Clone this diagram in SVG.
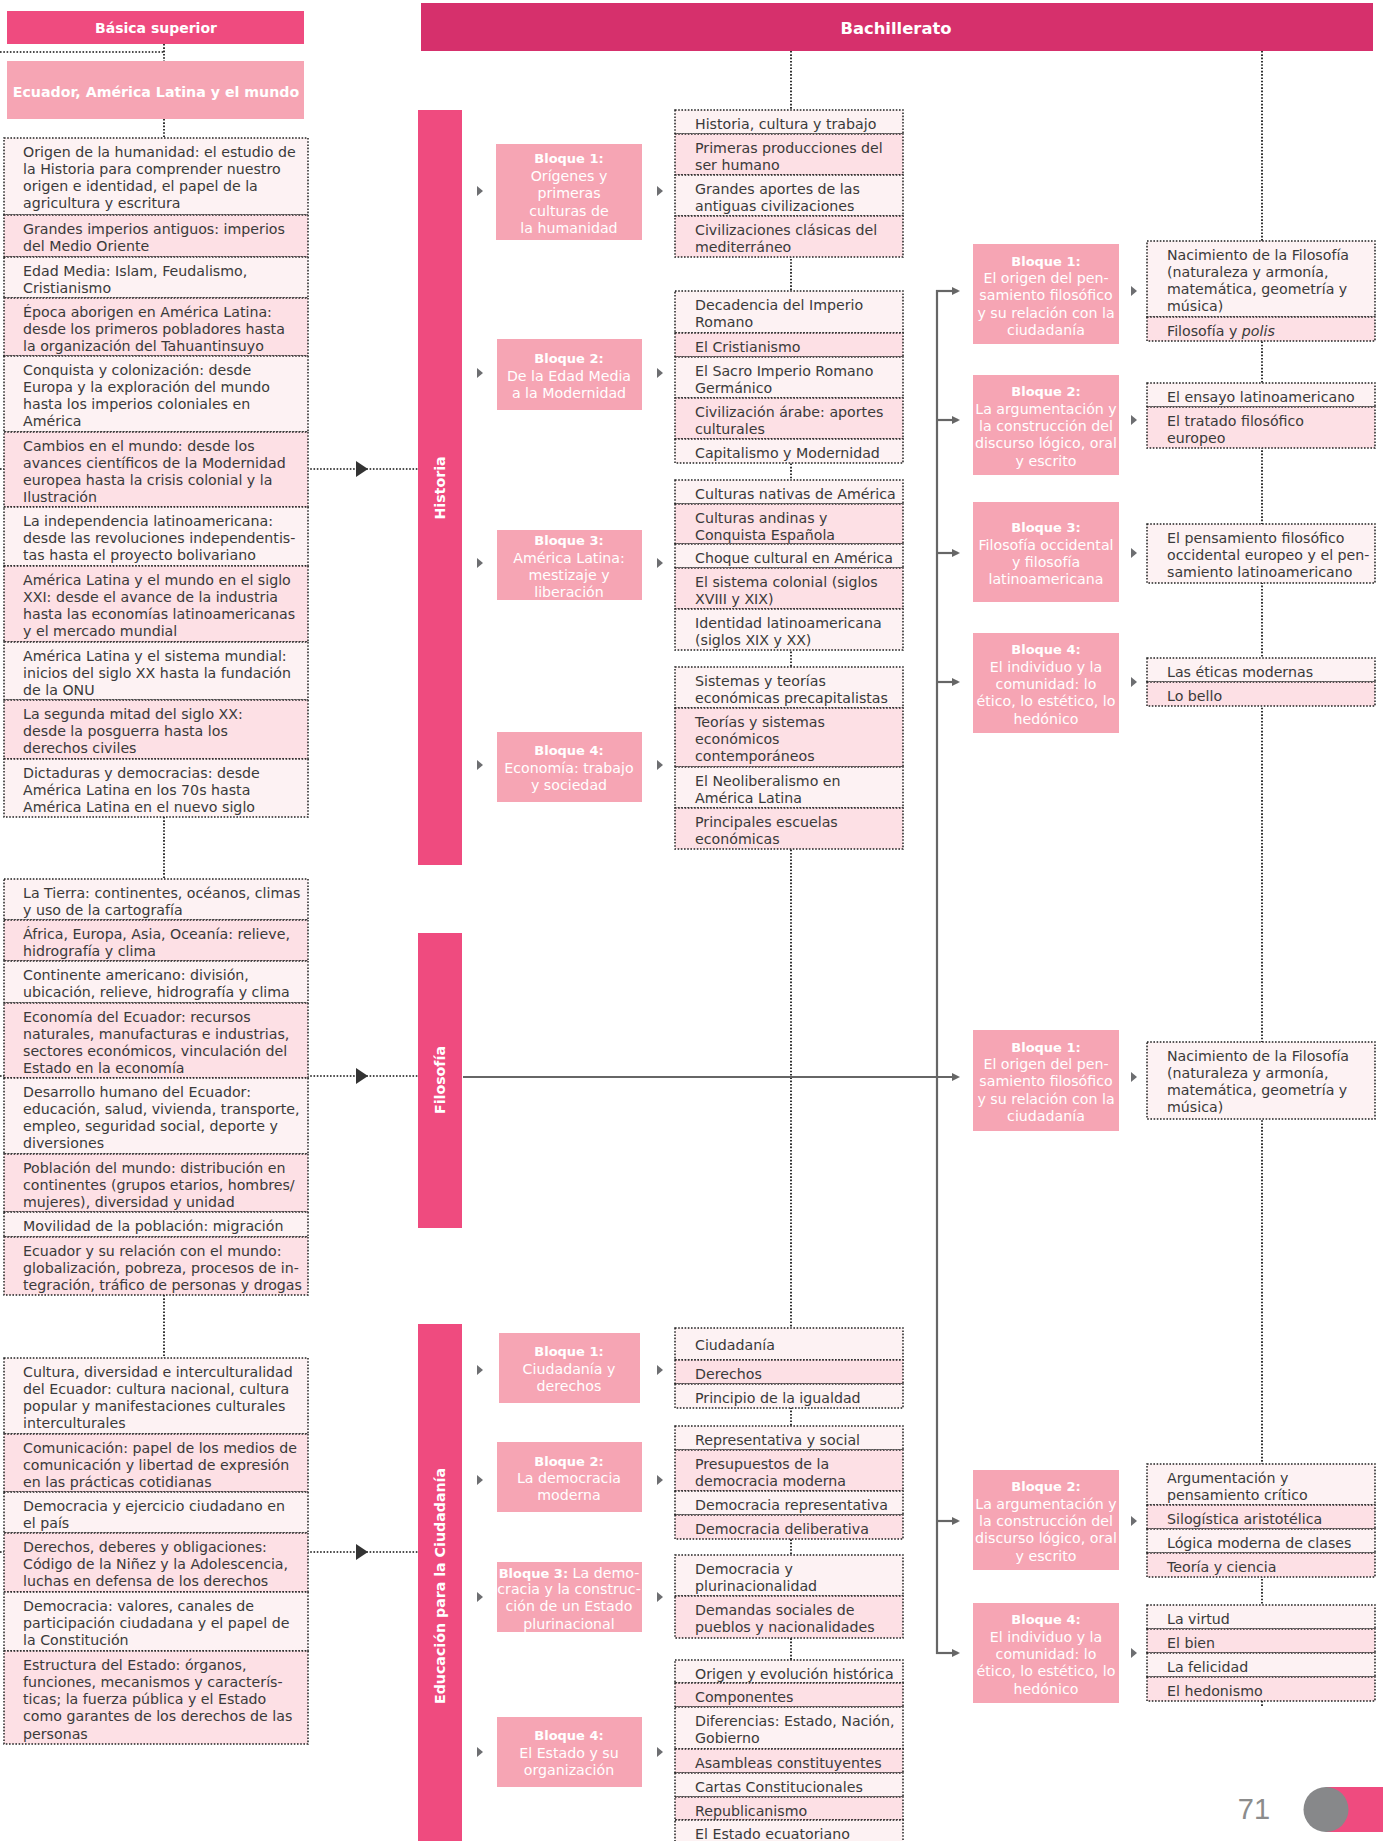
<svg xmlns="http://www.w3.org/2000/svg" width="1383" height="1841" viewBox="0 0 1383 1841">
<style>
.lt{fill:#fdf2f3;stroke:#222;stroke-width:1.5;stroke-dasharray:1.6 1.6}
.dk{fill:#fde0e5;stroke:#222;stroke-width:1.5;stroke-dasharray:1.6 1.6}
.bq{fill:#f6a5b4}
.bar{fill:#ef4b7f}
.t{font-family:'DejaVu Sans',sans-serif;font-size:14.2px;fill:#3a3a3a}
.w{font-family:'DejaVu Sans',sans-serif;font-size:14.2px;fill:#fff;text-anchor:middle}
.b{font-weight:bold;font-size:13px}
.vt{font-family:'DejaVu Sans',sans-serif;font-size:14.2px;font-weight:bold;fill:#fff;text-anchor:middle}
.dot{stroke:#111;stroke-width:1.7;stroke-dasharray:1.6 1.7;fill:none}
.sol{stroke:#666;stroke-width:2.2;fill:none}
.tri{fill:#6d6e71}
.big{fill:#333}
</style>
<defs>
<marker id="ah" markerWidth="8" markerHeight="8" refX="6" refY="4" orient="auto" markerUnits="userSpaceOnUse"><path d="M0,0 L8,4 L0,8 Z" fill="#666"/></marker>
</defs>

<g id="connectors">
<line class="dot" x1="0" y1="52" x2="164" y2="52"/>
<line class="dot" x1="164" y1="44" x2="164" y2="61"/>
<line class="dot" x1="164" y1="119" x2="164" y2="138"/>
<line class="dot" x1="164" y1="817" x2="164" y2="879"/>
<line class="dot" x1="164" y1="1295" x2="164" y2="1358"/>
<line class="dot" x1="0" y1="469" x2="418" y2="469"/>
<line class="dot" x1="0" y1="1076" x2="418" y2="1076"/>
<line class="dot" x1="0" y1="1552" x2="418" y2="1552"/>
<path class="big" d="M356,461 L368,469 L356,477 Z"/>
<path class="big" d="M356,1068 L368,1076 L356,1084 Z"/>
<path class="big" d="M356,1544 L368,1552 L356,1560 Z"/>
<line class="dot" x1="791" y1="51" x2="791" y2="1841"/>
<line class="dot" x1="1262" y1="51" x2="1262" y2="1706"/>
<line class="sol" x1="937" y1="290" x2="937" y2="1654"/>
<line class="sol" x1="936" y1="291" x2="958" y2="291" marker-end="url(#ah)"/>
<line class="sol" x1="936" y1="420" x2="958" y2="420" marker-end="url(#ah)"/>
<line class="sol" x1="936" y1="553" x2="958" y2="553" marker-end="url(#ah)"/>
<line class="sol" x1="936" y1="682" x2="958" y2="682" marker-end="url(#ah)"/>
<line class="sol" x1="463" y1="1077" x2="958" y2="1077" marker-end="url(#ah)"/>
<line class="sol" x1="936" y1="1521" x2="958" y2="1521" marker-end="url(#ah)"/>
<line class="sol" x1="936" y1="1653" x2="958" y2="1653" marker-end="url(#ah)"/>
<g class="tri">
<path d="M477,186 L483,191 L477,196 Z"/><path d="M657,186 L663,191 L657,196 Z"/>
<path d="M477,368 L483,373 L477,378 Z"/><path d="M657,368 L663,373 L657,378 Z"/>
<path d="M477,558 L483,563 L477,568 Z"/><path d="M657,558 L663,563 L657,568 Z"/>
<path d="M477,760 L483,765 L477,770 Z"/><path d="M657,760 L663,765 L657,770 Z"/>
<path d="M477,1365 L483,1370 L477,1375 Z"/><path d="M657,1365 L663,1370 L657,1375 Z"/>
<path d="M477,1475 L483,1480 L477,1485 Z"/><path d="M657,1475 L663,1480 L657,1485 Z"/>
<path d="M477,1592 L483,1597 L477,1602 Z"/><path d="M657,1592 L663,1597 L657,1602 Z"/>
<path d="M477,1747 L483,1752 L477,1757 Z"/><path d="M657,1747 L663,1752 L657,1757 Z"/>
<path d="M1131,286 L1137,291 L1131,296 Z"/>
<path d="M1131,415 L1137,420 L1131,425 Z"/>
<path d="M1131,548 L1137,553 L1131,558 Z"/>
<path d="M1131,677 L1137,682 L1131,687 Z"/>
<path d="M1131,1072 L1137,1077 L1131,1082 Z"/>
<path d="M1131,1516 L1137,1521 L1131,1526 Z"/>
<path d="M1131,1648 L1137,1653 L1131,1658 Z"/>
</g>
</g>

<g id="basica-superior">
<rect x="7" y="11" width="297" height="33" class="bar"/>
<text x="156" y="33" class="vt" style="font-size:14px">Básica superior</text>
</g>
<g id="ecuador">
<rect x="7" y="61" width="297" height="58" class="bq"/>
<text x="156" y="97" class="vt">Ecuador, América Latina y el mundo</text>
</g>
<g id="bachillerato">
<rect x="421" y="3" width="952" height="48" fill="#d6306c"/>
<text x="896" y="34" class="vt" style="font-size:16.4px">Bachillerato</text>
</g>

<g id="bar-historia">
<rect x="418" y="110" width="44" height="755" class="bar"/>
<text transform="translate(440,488) rotate(-90)" x="0" y="5" class="vt">Historia</text>
</g>
<g id="bar-filosofia">
<rect x="418" y="933" width="44" height="295" class="bar"/>
<text transform="translate(440,1080) rotate(-90)" x="0" y="5" class="vt">Filosofía</text>
</g>
<g id="bar-educacion">
<rect x="418" y="1324" width="44" height="520" class="bar"/>
<text transform="translate(440,1586) rotate(-90)" x="0" y="5" class="vt">Educación para la Ciudadanía</text>
</g>

<g id="list-basica-historia">
<rect x="4" y="138" width="304" height="77" class="lt"/>
<rect x="4" y="215" width="304" height="42" class="dk"/>
<rect x="4" y="257" width="304" height="41" class="lt"/>
<rect x="4" y="298" width="304" height="58" class="dk"/>
<rect x="4" y="356" width="304" height="76" class="lt"/>
<rect x="4" y="432" width="304" height="75" class="dk"/>
<rect x="4" y="507" width="304" height="59" class="lt"/>
<rect x="4" y="566" width="304" height="76" class="dk"/>
<rect x="4" y="642" width="304" height="58" class="lt"/>
<rect x="4" y="700" width="304" height="59" class="dk"/>
<rect x="4" y="759" width="304" height="58" class="lt"/>
<text class="t">
<tspan x="23" y="156.5">Origen de la humanidad: el estudio de</tspan>
<tspan x="23" y="173.8">la Historia para comprender nuestro</tspan>
<tspan x="23" y="191.1">origen e identidad, el papel de la</tspan>
<tspan x="23" y="208.4">agricultura y escritura</tspan>
<tspan x="23" y="233.5">Grandes imperios antiguos: imperios</tspan>
<tspan x="23" y="250.8">del Medio Oriente</tspan>
<tspan x="23" y="275.5">Edad Media: Islam, Feudalismo,</tspan>
<tspan x="23" y="292.8">Cristianismo</tspan>
<tspan x="23" y="316.5">Época aborigen en América Latina:</tspan>
<tspan x="23" y="333.8">desde los primeros pobladores hasta</tspan>
<tspan x="23" y="351.1">la organización del Tahuantinsuyo</tspan>
<tspan x="23" y="374.5">Conquista y colonización: desde</tspan>
<tspan x="23" y="391.8">Europa y la exploración del mundo</tspan>
<tspan x="23" y="409.1">hasta los imperios coloniales en</tspan>
<tspan x="23" y="426.4">América</tspan>
<tspan x="23" y="450.5">Cambios en el mundo: desde los</tspan>
<tspan x="23" y="467.8">avances científicos de la Modernidad</tspan>
<tspan x="23" y="485.1">europea hasta la crisis colonial y la</tspan>
<tspan x="23" y="502.4">Ilustración</tspan>
<tspan x="23" y="525.5">La independencia latinoamericana:</tspan>
<tspan x="23" y="542.8">desde las revoluciones independentis-</tspan>
<tspan x="23" y="560.1">tas hasta el proyecto bolivariano</tspan>
<tspan x="23" y="584.5">América Latina y el mundo en el siglo</tspan>
<tspan x="23" y="601.8">XXI: desde el avance de la industria</tspan>
<tspan x="23" y="619.1">hasta las economías latinoamericanas</tspan>
<tspan x="23" y="636.4">y el mercado mundial</tspan>
<tspan x="23" y="660.5">América Latina y el sistema mundial:</tspan>
<tspan x="23" y="677.8">inicios del siglo XX hasta la fundación</tspan>
<tspan x="23" y="695.1">de la ONU</tspan>
<tspan x="23" y="718.5">La segunda mitad del siglo XX:</tspan>
<tspan x="23" y="735.8">desde la posguerra hasta los</tspan>
<tspan x="23" y="753.1">derechos civiles</tspan>
<tspan x="23" y="777.5">Dictaduras y democracias: desde</tspan>
<tspan x="23" y="794.8">América Latina en los 70s hasta</tspan>
<tspan x="23" y="812.1">América Latina en el nuevo siglo</tspan>
</text>
</g>

<g id="list-basica-geografia">
<rect x="4" y="879" width="304" height="41" class="lt"/>
<rect x="4" y="920" width="304" height="41" class="dk"/>
<rect x="4" y="961" width="304" height="42" class="lt"/>
<rect x="4" y="1003" width="304" height="75" class="dk"/>
<rect x="4" y="1078" width="304" height="76" class="lt"/>
<rect x="4" y="1154" width="304" height="58" class="dk"/>
<rect x="4" y="1212" width="304" height="25" class="lt"/>
<rect x="4" y="1237" width="304" height="58" class="dk"/>
<text class="t">
<tspan x="23" y="897.5">La Tierra: continentes, océanos, climas</tspan>
<tspan x="23" y="914.8">y uso de la cartografía</tspan>
<tspan x="23" y="938.5">África, Europa, Asia, Oceanía: relieve,</tspan>
<tspan x="23" y="955.8">hidrografía y clima</tspan>
<tspan x="23" y="979.5">Continente americano: división,</tspan>
<tspan x="23" y="996.8">ubicación, relieve, hidrografía y clima</tspan>
<tspan x="23" y="1021.5">Economía del Ecuador: recursos</tspan>
<tspan x="23" y="1038.8">naturales, manufacturas e industrias,</tspan>
<tspan x="23" y="1056.1">sectores económicos, vinculación del</tspan>
<tspan x="23" y="1073.4">Estado en la economía</tspan>
<tspan x="23" y="1096.5">Desarrollo humano del Ecuador:</tspan>
<tspan x="23" y="1113.8">educación, salud, vivienda, transporte,</tspan>
<tspan x="23" y="1131.1">empleo, seguridad social, deporte y</tspan>
<tspan x="23" y="1148.4">diversiones</tspan>
<tspan x="23" y="1172.5">Población del mundo: distribución en</tspan>
<tspan x="23" y="1189.8">continentes (grupos etarios, hombres/</tspan>
<tspan x="23" y="1207.1">mujeres), diversidad y unidad</tspan>
<tspan x="23" y="1230.5">Movilidad de la población: migración</tspan>
<tspan x="23" y="1255.5">Ecuador y su relación con el mundo:</tspan>
<tspan x="23" y="1272.8">globalización, pobreza, procesos de in-</tspan>
<tspan x="23" y="1290.1">tegración, tráfico de personas y drogas</tspan>
</text>
</g>

<g id="list-basica-ciudadania">
<rect x="4" y="1358" width="304" height="76" class="lt"/>
<rect x="4" y="1434" width="304" height="58" class="dk"/>
<rect x="4" y="1492" width="304" height="41" class="lt"/>
<rect x="4" y="1533" width="304" height="59" class="dk"/>
<rect x="4" y="1592" width="304" height="59" class="lt"/>
<rect x="4" y="1651" width="304" height="93" class="dk"/>
<text class="t">
<tspan x="23" y="1376.5">Cultura, diversidad e interculturalidad</tspan>
<tspan x="23" y="1393.8">del Ecuador: cultura nacional, cultura</tspan>
<tspan x="23" y="1411.1">popular y manifestaciones culturales</tspan>
<tspan x="23" y="1428.4">interculturales</tspan>
<tspan x="23" y="1452.5">Comunicación: papel de los medios de</tspan>
<tspan x="23" y="1469.8">comunicación y libertad de expresión</tspan>
<tspan x="23" y="1487.1">en las prácticas cotidianas</tspan>
<tspan x="23" y="1510.5">Democracia y ejercicio ciudadano en</tspan>
<tspan x="23" y="1527.8">el país</tspan>
<tspan x="23" y="1551.5">Derechos, deberes y obligaciones:</tspan>
<tspan x="23" y="1568.8">Código de la Niñez y la Adolescencia,</tspan>
<tspan x="23" y="1586.1">luchas en defensa de los derechos</tspan>
<tspan x="23" y="1610.5">Democracia: valores, canales de</tspan>
<tspan x="23" y="1627.8">participación ciudadana y el papel de</tspan>
<tspan x="23" y="1645.1">la Constitución</tspan>
<tspan x="23" y="1669.5">Estructura del Estado: órganos,</tspan>
<tspan x="23" y="1686.8">funciones, mecanismos y caracterís-</tspan>
<tspan x="23" y="1704.1">ticas; la fuerza pública y el Estado</tspan>
<tspan x="23" y="1721.4">como garantes de los derechos de las</tspan>
<tspan x="23" y="1738.7">personas</tspan>
</text>
</g>

<g id="historia-bloque1">
<rect x="496" y="144" width="146" height="96" class="bq"/>
<text class="w"><tspan x="569" y="163" class="b">Bloque 1:</tspan><tspan x="569" y="180.5">Orígenes y</tspan><tspan x="569" y="198">primeras</tspan><tspan x="569" y="215.5">culturas de</tspan><tspan x="569" y="233">la humanidad</tspan></text>
</g>
<g id="historia-bloque2">
<rect x="497" y="339" width="145" height="71" class="bq"/>
<text class="w"><tspan x="569" y="363" class="b">Bloque 2:</tspan><tspan x="569" y="381">De la Edad Media</tspan><tspan x="569" y="398">a la Modernidad</tspan></text>
</g>
<g id="historia-bloque3">
<rect x="497" y="530" width="145" height="70" class="bq"/>
<text class="w"><tspan x="569" y="545" class="b">Bloque 3:</tspan><tspan x="569" y="562.5">América Latina:</tspan><tspan x="569" y="579.5">mestizaje y</tspan><tspan x="569" y="597">liberación</tspan></text>
</g>
<g id="historia-bloque4">
<rect x="497" y="732" width="145" height="70" class="bq"/>
<text class="w"><tspan x="569" y="755" class="b">Bloque 4:</tspan><tspan x="569" y="773">Economía: trabajo</tspan><tspan x="569" y="790">y sociedad</tspan></text>
</g>

<g id="historia-lista1">
<rect x="675" y="110" width="228" height="24" class="lt"/>
<rect x="675" y="134" width="228" height="41" class="dk"/>
<rect x="675" y="175" width="228" height="41" class="lt"/>
<rect x="675" y="216" width="228" height="41" class="dk"/>
<text class="t"><tspan x="695" y="128.5">Historia, cultura y trabajo</tspan><tspan x="695" y="152.5">Primeras producciones del</tspan><tspan x="695" y="169.8">ser humano</tspan><tspan x="695" y="193.5">Grandes aportes de las</tspan><tspan x="695" y="210.8">antiguas civilizaciones</tspan><tspan x="695" y="234.5">Civilizaciones clásicas del</tspan><tspan x="695" y="251.8">mediterráneo</tspan></text>
</g>
<g id="historia-lista2">
<rect x="675" y="291" width="228" height="42" class="lt"/>
<rect x="675" y="333" width="228" height="24" class="dk"/>
<rect x="675" y="357" width="228" height="41" class="lt"/>
<rect x="675" y="398" width="228" height="41" class="dk"/>
<rect x="675" y="439" width="228" height="24" class="lt"/>
<text class="t"><tspan x="695" y="309.5">Decadencia del Imperio</tspan><tspan x="695" y="326.8">Romano</tspan><tspan x="695" y="351.5">El Cristianismo</tspan><tspan x="695" y="375.5">El Sacro Imperio Romano</tspan><tspan x="695" y="392.8">Germánico</tspan><tspan x="695" y="416.5">Civilización árabe: aportes</tspan><tspan x="695" y="433.8">culturales</tspan><tspan x="695" y="457.5">Capitalismo y Modernidad</tspan></text>
</g>
<g id="historia-lista3">
<rect x="675" y="480" width="228" height="24" class="lt"/>
<rect x="675" y="504" width="228" height="40" class="dk"/>
<rect x="675" y="544" width="228" height="24" class="lt"/>
<rect x="675" y="568" width="228" height="41" class="dk"/>
<rect x="675" y="609" width="228" height="41" class="lt"/>
<text class="t"><tspan x="695" y="498.5">Culturas nativas de América</tspan><tspan x="695" y="522.5">Culturas andinas y</tspan><tspan x="695" y="539.8">Conquista Española</tspan><tspan x="695" y="562.5">Choque cultural en América</tspan><tspan x="695" y="586.5">El sistema colonial (siglos</tspan><tspan x="695" y="603.8">XVIII y XIX)</tspan><tspan x="695" y="627.5">Identidad latinoamericana</tspan><tspan x="695" y="644.8">(siglos XIX y XX)</tspan></text>
</g>
<g id="historia-lista4">
<rect x="675" y="667" width="228" height="41" class="lt"/>
<rect x="675" y="708" width="228" height="59" class="dk"/>
<rect x="675" y="767" width="228" height="41" class="lt"/>
<rect x="675" y="808" width="228" height="41" class="dk"/>
<text class="t"><tspan x="695" y="685.5">Sistemas y teorías</tspan><tspan x="695" y="702.8">económicas precapitalistas</tspan><tspan x="695" y="726.5">Teorías y sistemas</tspan><tspan x="695" y="743.8">económicos</tspan><tspan x="695" y="761.1">contemporáneos</tspan><tspan x="695" y="785.5">El Neoliberalismo en</tspan><tspan x="695" y="802.8">América Latina</tspan><tspan x="695" y="826.5">Principales escuelas</tspan><tspan x="695" y="843.8">económicas</tspan></text>
</g>

<g id="educacion-bloque1">
<rect x="499" y="1333" width="141" height="70" class="bq"/>
<text class="w"><tspan x="569" y="1356" class="b">Bloque 1:</tspan><tspan x="569" y="1374">Ciudadanía y</tspan><tspan x="569" y="1391">derechos</tspan></text>
</g>
<g id="educacion-bloque2">
<rect x="497" y="1442" width="145" height="70" class="bq"/>
<text class="w"><tspan x="569" y="1466" class="b">Bloque 2:</tspan><tspan x="569" y="1483">La democracia</tspan><tspan x="569" y="1500">moderna</tspan></text>
</g>
<g id="educacion-bloque3">
<rect x="497" y="1562" width="145" height="70" class="bq"/>
<text class="w"><tspan x="569" y="1577.6"><tspan class="b">Bloque 3:</tspan> La demo-</tspan><tspan x="569" y="1594">cracia y la construc-</tspan><tspan x="569" y="1611">ción de un Estado</tspan><tspan x="569" y="1629">plurinacional</tspan></text>
</g>
<g id="educacion-bloque4">
<rect x="497" y="1717" width="145" height="70" class="bq"/>
<text class="w"><tspan x="569" y="1740" class="b">Bloque 4:</tspan><tspan x="569" y="1757.7">El Estado y su</tspan><tspan x="569" y="1775">organización</tspan></text>
</g>

<g id="educacion-lista1">
<rect x="675" y="1328" width="228" height="32" class="lt"/>
<rect x="675" y="1360" width="228" height="24" class="dk"/>
<rect x="675" y="1384" width="228" height="24" class="lt"/>
<text class="t"><tspan x="695" y="1350">Ciudadanía</tspan><tspan x="695" y="1378.5">Derechos</tspan><tspan x="695" y="1402.5">Principio de la igualdad</tspan></text>
</g>
<g id="educacion-lista2">
<rect x="675" y="1426" width="228" height="24" class="lt"/>
<rect x="675" y="1450" width="228" height="41" class="dk"/>
<rect x="675" y="1491" width="228" height="24" class="lt"/>
<rect x="675" y="1515" width="228" height="24" class="dk"/>
<text class="t"><tspan x="695" y="1444.5">Representativa y social</tspan><tspan x="695" y="1468.5">Presupuestos de la</tspan><tspan x="695" y="1485.8">democracia moderna</tspan><tspan x="695" y="1509.5">Democracia representativa</tspan><tspan x="695" y="1533.5">Democracia deliberativa</tspan></text>
</g>
<g id="educacion-lista3">
<rect x="675" y="1555" width="228" height="41" class="lt"/>
<rect x="675" y="1596" width="228" height="42" class="dk"/>
<text class="t"><tspan x="695" y="1573.5">Democracia y</tspan><tspan x="695" y="1590.8">plurinacionalidad</tspan><tspan x="695" y="1614.5">Demandas sociales de</tspan><tspan x="695" y="1631.8">pueblos y nacionalidades</tspan></text>
</g>
<g id="educacion-lista4">
<rect x="675" y="1660" width="228" height="23" class="lt"/>
<rect x="675" y="1683" width="228" height="24" class="dk"/>
<rect x="675" y="1707" width="228" height="42" class="lt"/>
<rect x="675" y="1749" width="228" height="24" class="dk"/>
<rect x="675" y="1773" width="228" height="24" class="lt"/>
<rect x="675" y="1797" width="228" height="23" class="dk"/>
<rect x="675" y="1820" width="228" height="26" class="lt"/>
<text class="t"><tspan x="695" y="1678.5">Origen y evolución histórica</tspan><tspan x="695" y="1701.5">Componentes</tspan><tspan x="695" y="1725.5">Diferencias: Estado, Nación,</tspan><tspan x="695" y="1742.8">Gobierno</tspan><tspan x="695" y="1767.5">Asambleas constituyentes</tspan><tspan x="695" y="1791.5">Cartas Constitucionales</tspan><tspan x="695" y="1815.5">Republicanismo</tspan><tspan x="695" y="1838.5">El Estado ecuatoriano</tspan></text>
</g>

<g id="filosofia-bloque1">
<rect x="973" y="244" width="146" height="100" class="bq"/>
<text class="w"><tspan x="1046" y="266" class="b">Bloque 1:</tspan><tspan x="1046" y="283">El origen del pen-</tspan><tspan x="1046" y="300">samiento filosófico</tspan><tspan x="1046" y="318">y su relación con la</tspan><tspan x="1046" y="335">ciudadanía</tspan></text>
</g>
<g id="filosofia-bloque2">
<rect x="973" y="375" width="146" height="100" class="bq"/>
<text class="w"><tspan x="1046" y="396" class="b">Bloque 2:</tspan><tspan x="1046" y="414">La argumentación y</tspan><tspan x="1046" y="431">la construcción del</tspan><tspan x="1046" y="448">discurso lógico, oral</tspan><tspan x="1046" y="466">y escrito</tspan></text>
</g>
<g id="filosofia-bloque3">
<rect x="973" y="502" width="146" height="100" class="bq"/>
<text class="w"><tspan x="1046" y="532" class="b">Bloque 3:</tspan><tspan x="1046" y="550">Filosofía occidental</tspan><tspan x="1046" y="567">y filosofía</tspan><tspan x="1046" y="584">latinoamericana</tspan></text>
</g>
<g id="filosofia-bloque4">
<rect x="973" y="633" width="146" height="100" class="bq"/>
<text class="w"><tspan x="1046" y="654" class="b">Bloque 4:</tspan><tspan x="1046" y="672">El individuo y la</tspan><tspan x="1046" y="689">comunidad: lo</tspan><tspan x="1046" y="706">ético, lo estético, lo</tspan><tspan x="1046" y="724">hedónico</tspan></text>
</g>
<g id="filosofia2-bloque1">
<rect x="973" y="1030" width="146" height="101" class="bq"/>
<text class="w"><tspan x="1046" y="1052" class="b">Bloque 1:</tspan><tspan x="1046" y="1069">El origen del pen-</tspan><tspan x="1046" y="1086">samiento filosófico</tspan><tspan x="1046" y="1104">y su relación con la</tspan><tspan x="1046" y="1121">ciudadanía</tspan></text>
</g>
<g id="filosofia3-bloque2">
<rect x="973" y="1470" width="146" height="100" class="bq"/>
<text class="w"><tspan x="1046" y="1491" class="b">Bloque 2:</tspan><tspan x="1046" y="1509">La argumentación y</tspan><tspan x="1046" y="1526">la construcción del</tspan><tspan x="1046" y="1543">discurso lógico, oral</tspan><tspan x="1046" y="1561">y escrito</tspan></text>
</g>
<g id="filosofia3-bloque4">
<rect x="973" y="1603" width="146" height="100" class="bq"/>
<text class="w"><tspan x="1046" y="1624" class="b">Bloque 4:</tspan><tspan x="1046" y="1642">El individuo y la</tspan><tspan x="1046" y="1659">comunidad: lo</tspan><tspan x="1046" y="1676">ético, lo estético, lo</tspan><tspan x="1046" y="1694">hedónico</tspan></text>
</g>

<g id="filosofia-lista1">
<rect x="1147" y="241" width="228" height="76" class="lt"/>
<rect x="1147" y="317" width="228" height="24" class="dk"/>
<text class="t"><tspan x="1167" y="259.5">Nacimiento de la Filosofía</tspan><tspan x="1167" y="276.8">(naturaleza y armonía,</tspan><tspan x="1167" y="294.1">matemática, geometría y</tspan><tspan x="1167" y="311.4">música)</tspan><tspan x="1167" y="335.5">Filosofía y <tspan font-style="italic">polis</tspan></tspan></text>
</g>
<g id="filosofia-lista2">
<rect x="1147" y="383" width="228" height="24" class="lt"/>
<rect x="1147" y="407" width="228" height="41" class="dk"/>
<text class="t"><tspan x="1167" y="401.5">El ensayo latinoamericano</tspan><tspan x="1167" y="425.5">El tratado filosófico</tspan><tspan x="1167" y="442.8">europeo</tspan></text>
</g>
<g id="filosofia-lista3">
<rect x="1147" y="524" width="228" height="59" class="lt"/>
<text class="t"><tspan x="1167" y="542.5">El pensamiento filosófico</tspan><tspan x="1167" y="559.8">occidental europeo y el pen-</tspan><tspan x="1167" y="577.1">samiento latinoamericano</tspan></text>
</g>
<g id="filosofia-lista4">
<rect x="1147" y="658" width="228" height="24" class="lt"/>
<rect x="1147" y="682" width="228" height="24" class="dk"/>
<text class="t"><tspan x="1167" y="676.5">Las éticas modernas</tspan><tspan x="1167" y="700.5">Lo bello</tspan></text>
</g>
<g id="filosofia2-lista1">
<rect x="1147" y="1042" width="228" height="77" class="lt"/>
<text class="t"><tspan x="1167" y="1060.5">Nacimiento de la Filosofía</tspan><tspan x="1167" y="1077.8">(naturaleza y armonía,</tspan><tspan x="1167" y="1095.1">matemática, geometría y</tspan><tspan x="1167" y="1112.4">música)</tspan></text>
</g>
<g id="filosofia3-lista2">
<rect x="1147" y="1464" width="228" height="41" class="lt"/>
<rect x="1147" y="1505" width="228" height="24" class="dk"/>
<rect x="1147" y="1529" width="228" height="24" class="lt"/>
<rect x="1147" y="1553" width="228" height="24" class="dk"/>
<text class="t"><tspan x="1167" y="1482.5">Argumentación y</tspan><tspan x="1167" y="1499.8">pensamiento crítico</tspan><tspan x="1167" y="1523.5">Silogística aristotélica</tspan><tspan x="1167" y="1547.5">Lógica moderna de clases</tspan><tspan x="1167" y="1571.5">Teoría y ciencia</tspan></text>
</g>
<g id="filosofia3-lista4">
<rect x="1147" y="1605" width="228" height="24" class="lt"/>
<rect x="1147" y="1629" width="228" height="24" class="dk"/>
<rect x="1147" y="1653" width="228" height="24" class="lt"/>
<rect x="1147" y="1677" width="228" height="24" class="dk"/>
<text class="t"><tspan x="1167" y="1623.5">La virtud</tspan><tspan x="1167" y="1647.5">El bien</tspan><tspan x="1167" y="1671.5">La felicidad</tspan><tspan x="1167" y="1695.5">El hedonismo</tspan></text>
</g>

<g id="page-number">
<rect x="1326" y="1787" width="57" height="45" fill="#ef4b7f"/>
<circle cx="1326" cy="1809.5" r="22.5" fill="#87888a"/>
<text x="1254" y="1819" font-family="'Liberation Sans',sans-serif" font-size="29" fill="#8c8c8c" text-anchor="middle">71</text>
</g>
</svg>
